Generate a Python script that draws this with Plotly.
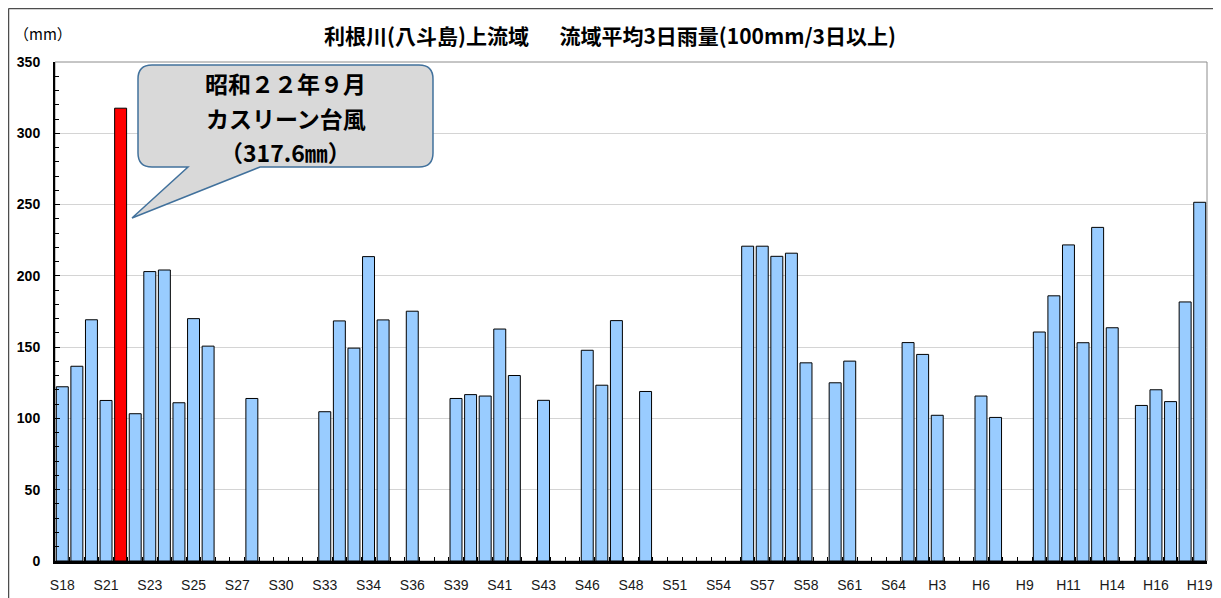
import plotly.graph_objects as go

# ---- data -------------------------------------------------------------
# Basin-average 3-day rainfall (mm) for each event slot, None = empty slot
rain_mm = [
    122.2, 136.6, 169.2, 112.6, 317.6, 103.3, 203.0, 204.1, 111.0, 170.0,
    150.7, None, None, 114.0, None, None, None, None, 104.7, 168.4,
    149.3, 213.5, 169.1, None, 175.2, None, None, 114.0, 116.7, 115.7,
    162.7, 130.1, None, 112.7, None, None, 147.8, 123.3, 168.6, None,
    118.9, None, None, None, None, None, None, 220.8, 220.8, 213.7,
    215.9, 139.0, None, 125.0, 140.2, None, None, None, 153.2, 144.9,
    102.2, None, None, 115.7, 100.7, None, None, 160.6, 186.0, 221.7,
    153.1, 234.0, 163.6, None, 109.1, 120.1, 111.8, 181.7, 251.6,
]
tick_labels = [
    "S18", "S21", "S23", "S25", "S27", "S30", "S33", "S34", "S36", "S39",
    "S41", "S43", "S46", "S48", "S51", "S54", "S57", "S58", "S61", "S64",
    "H3", "H6", "H9", "H11", "H14", "H16", "H19",
]
highlight_index = 4          # 昭和22年9月 カスリーン台風
label_step = 3

title_text = "利根川(八斗島)上流域　\u00a0\u00a0流域平均3日雨量(100mm/3日以上)"
unit_text = "（mm）"
callout_lines = ["昭和２２年９月", "カスリーン台風", "（317.6㎜）"]

# ---- styles -----------------------------------------------------------
VIEW_W, VIEW_H = 1221, 598
OFF = 8                      # default page-body margin of the html page
W, H = VIEW_W - OFF, VIEW_H - OFF
# plot area in page pixels: left 55, right 1207, top 62, bottom 561
ML, MT = 55 - OFF, 62 - OFF
MR, MB = W - (1207 - OFF), H - (561 - OFF)
BAR_COLOR = "#99ccff"
HI_COLOR = "#ff0000"

slots = list(range(len(rain_mm)))
colors = [HI_COLOR if i == highlight_index else BAR_COLOR for i in slots]

fig = go.Figure()
fig.add_trace(go.Bar(
    x=slots, y=rain_mm, width=0.82,
    marker=dict(color=colors, line=dict(color="#000000", width=1)),
    showlegend=False, hoverinfo="x+y",
))

pw = W - ML - MR
ph = H - MT - MB


def px(x):
    """page pixel x -> paper"""
    return (x - OFF - ML) / pw


def py(y):
    """page pixel y -> paper"""
    return (H - MB - (y - OFF)) / ph


def P(x, y):
    return f"{px(x):.5f},{py(y):.5f}"


# callout bubble (page-pixel layout -> paper coords)
L, R, T, B, r = 138, 433, 65, 167, 14
bx1, bx2, tip = 188, 260, (132, 218)
path = (
    f"M {P(L + r, T)} L {P(R - r, T)} Q {P(R, T)} {P(R, T + r)} "
    f"L {P(R, B - r)} Q {P(R, B)} {P(R - r, B)} L {P(bx2, B)} "
    f"L {P(*tip)} L {P(bx1, B)} L {P(L + r, B)} Q {P(L, B)} {P(L, B - r)} "
    f"L {P(L, T + r)} Q {P(L, T)} {P(L + r, T)} Z"
)

shapes = [
    # plot-area frame (gray top/right)
    dict(type="rect", xref="paper", yref="paper", x0=0, x1=1, y0=0, y1=1,
         line=dict(color="#8c8c8c", width=1), layer="below"),
    # outer chart frame
    dict(type="line", xref="paper", yref="paper",
         x0=px(8.5), x1=px(VIEW_W + 5), y0=py(8.5), y1=py(8.5),
         line=dict(color="#4d4d4d", width=1.5)),
    dict(type="line", xref="paper", yref="paper",
         x0=px(8.5), x1=px(8.5), y0=py(8.5), y1=py(VIEW_H + 5),
         line=dict(color="#4d4d4d", width=1.5)),
    dict(type="path", xref="paper", yref="paper", path=path,
         fillcolor="#d9d9d9", line=dict(color="#41719c", width=1.5)),
]

cjk = "Noto Sans CJK JP"
annotations = [
    dict(text=f"<b>{title_text}</b>", xref="paper", yref="paper",
         x=px(610), y=py(35), showarrow=False, xanchor="center", yanchor="middle",
         font=dict(family=cjk, size=21, color="#000000")),
    dict(text=unit_text, xref="paper", yref="paper",
         x=px(43), y=py(33), showarrow=False, xanchor="center", yanchor="middle",
         font=dict(family=cjk, size=15, color="#000000")),
]
for line_text, yy in zip(callout_lines, [83, 118, 152]):
    annotations.append(dict(
        text=f"<b>{line_text}</b>", xref="paper", yref="paper",
        x=px((L + R) / 2), y=py(yy), showarrow=False,
        xanchor="center", yanchor="middle",
        font=dict(family=cjk, size=23, color="#000000")))

fig.update_layout(
    width=W, height=H,
    margin=dict(l=ML, r=MR, t=MT, b=MB, autoexpand=False),
    paper_bgcolor="#ffffff", plot_bgcolor="#ffffff",
    shapes=shapes, annotations=annotations,
    bargap=0.18,
)
fig.update_xaxes(
    range=[-0.5, len(rain_mm) - 0.5],
    automargin=False,
    tickmode="array",
    tickvals=slots[::label_step],
    ticktext=tick_labels,
    ticks="", showgrid=False, zeroline=False,
    showline=True, linecolor="#000000", linewidth=2.5,
    tickfont=dict(family="Liberation Sans, Arial", size=14, color="#1a1a1a"),
    ticklabelstandoff=9,
    minor=dict(tickmode="array", tickvals=[i - 0.5 for i in slots[1:]],
               ticks="inside", ticklen=4, tickcolor="#000000", tickwidth=1,
               showgrid=False),
)
fig.update_yaxes(
    range=[0, 350], dtick=50, tick0=0,
    automargin=False,
    showgrid=True, gridcolor="#d4d4d4", gridwidth=1,
    zeroline=False,
    showline=True, linecolor="#000000", linewidth=2,
    ticks="inside", ticklen=5, tickcolor="#000000", tickwidth=1,
    tickfont=dict(family="Liberation Sans, Arial", size=14, color="#000000", weight="bold"),
    ticklabelstandoff=10,
    minor=dict(dtick=10, ticks="inside", ticklen=4, tickcolor="#000000",
               tickwidth=1, showgrid=False),
)

fig.write_html("out.html")
